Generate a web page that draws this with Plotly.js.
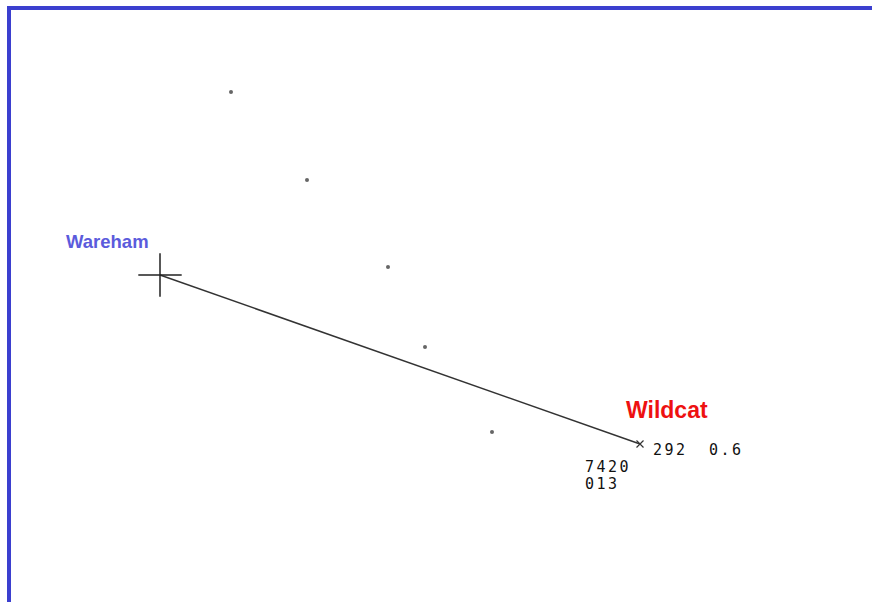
<!DOCTYPE html>
<html><head><meta charset="utf-8">
<script src="https://cdn.plot.ly/plotly-3.0.1.min.js"></script>
<style>html,body{margin:0;padding:0;background:#fff;}#chart{width:872px;height:602px;}</style>
</head><body><div id="chart"></div>
<script>
// map coordinates (screen-like units)
const dotX = [231, 307, 388, 425, 492];
const dotY = [92, 180, 267, 347, 432];
const stationNames = ["Wareham", "Wildcat"];
const stationX = [160, 640];
const stationY = [275, 444];
const wildcatData = ["292", "0.6", "7420", "013"];

const traces = [
  {x: dotX, y: dotY, mode: 'markers', type: 'scatter',
   marker: {symbol: 'circle', size: 4, color: '#666'}, hoverinfo: 'skip'},
  {x: stationX, y: stationY, mode: 'lines', type: 'scatter',
   line: {color: '#333', width: 1.5}, hoverinfo: 'skip'},
  {x: [stationX[0]], y: [stationY[0]], mode: 'markers', type: 'scatter',
   marker: {symbol: 'cross-thin', size: 31, line: {color: '#222', width: 1.5}}, hoverinfo: 'skip'},
  {x: [stationX[1]], y: [stationY[1]], mode: 'markers', type: 'scatter',
   marker: {symbol: 'x-thin', size: 7, line: {color: '#333', width: 1.2}}, hoverinfo: 'skip'}
];

const mono = {family: 'DejaVu Sans Mono', size: 15, color: '#111'};
function spaced(t) { return '<span style="letter-spacing:2.5px">' + t + '</span>'; }
const annotations = [
  {x: stationX[0], y: stationY[0], xref: 'x', yref: 'y', text: '<b>' + stationNames[0] + '</b>',
   showarrow: false, xanchor: 'right', yanchor: 'middle', xshift: -9, yshift: 34,
   font: {family: 'Liberation Sans', size: 18.5, color: '#5b5bdc'}},
  {x: stationX[1], y: stationY[1], xref: 'x', yref: 'y', text: '<b>' + stationNames[1] + '</b>',
   showarrow: false, xanchor: 'left', yanchor: 'middle', xshift: -16, yshift: 34,
   font: {family: 'Liberation Sans', size: 23, color: '#ee1111'}},
  {x: stationX[1], y: stationY[1], xref: 'x', yref: 'y', text: spaced(wildcatData[0]),
   showarrow: false, xanchor: 'left', yanchor: 'middle', xshift: 11, yshift: -6, font: mono},
  {x: stationX[1], y: stationY[1], xref: 'x', yref: 'y', text: spaced(wildcatData[1]),
   showarrow: false, xanchor: 'left', yanchor: 'middle', xshift: 67, yshift: -6, font: mono},
  {x: stationX[1], y: stationY[1], xref: 'x', yref: 'y', text: spaced(wildcatData[2]),
   showarrow: false, xanchor: 'left', yanchor: 'middle', xshift: -57, yshift: -23, font: mono},
  {x: stationX[1], y: stationY[1], xref: 'x', yref: 'y', text: spaced(wildcatData[3]),
   showarrow: false, xanchor: 'left', yanchor: 'middle', xshift: -57, yshift: -40, font: mono}
];

const layout = {
  width: 872, height: 602,
  margin: {l: 0, r: 0, t: 0, b: 0},
  paper_bgcolor: '#fff', plot_bgcolor: '#fff',
  showlegend: false,
  xaxis: {range: [0, 872], visible: false, fixedrange: true},
  yaxis: {range: [602, 0], visible: false, fixedrange: true},
  shapes: [
    {type: 'line', xref: 'x', yref: 'y', x0: 7, x1: 872, y0: 8, y1: 8, line: {color: '#3b3fcf', width: 4}},
    {type: 'line', xref: 'x', yref: 'y', x0: 9, x1: 9, y0: 6, y1: 602, line: {color: '#3b3fcf', width: 4}}
  ],
  annotations: annotations
};

Plotly.newPlot('chart', traces, layout, {staticPlot: true, displayModeBar: false});
</script></body></html>
